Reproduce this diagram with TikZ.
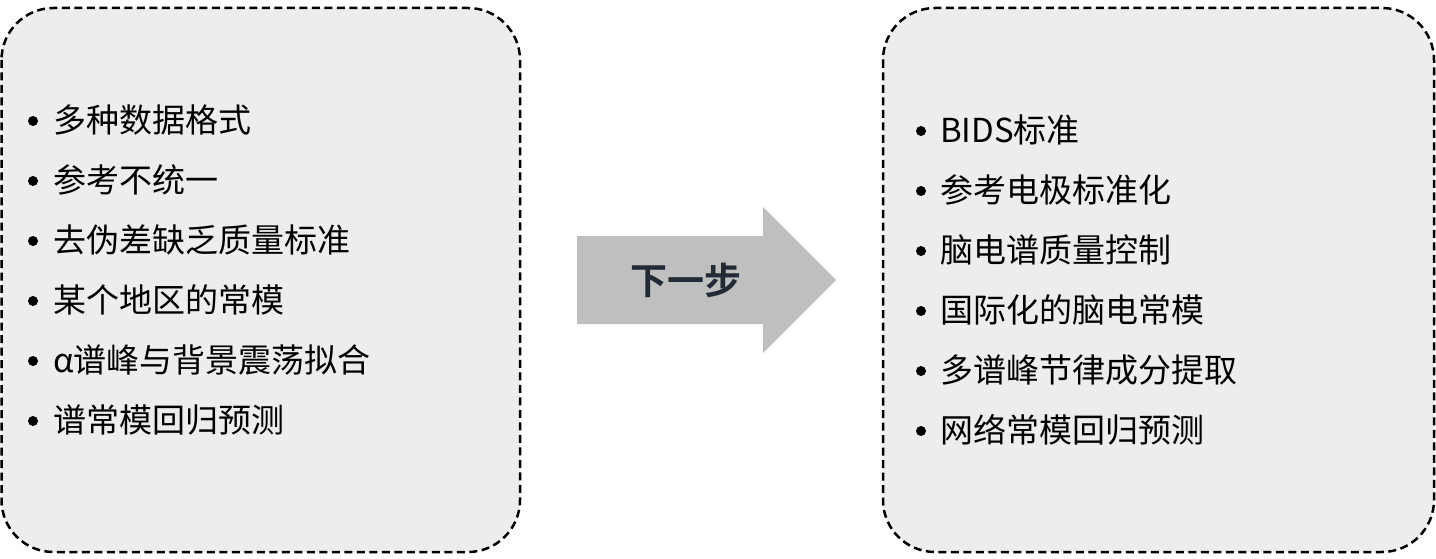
\documentclass[tikz,border=0pt]{standalone}
\usepackage{fontspec}
\setmainfont{Noto Sans CJK SC}
\newfontfamily\cjkbold{Noto Sans CJK SC Bold}
\definecolor{boxfill}{HTML}{EDEDED}
\definecolor{arrowfill}{HTML}{BFBFBF}
\definecolor{arrowtext}{HTML}{222A35}
\begin{document}
\begin{tikzpicture}[x=1pt,y=-1pt,
  panel/.style={draw=black, fill=boxfill, line width=2.5pt, dash pattern=on 8pt off 4.5pt, rounded corners=52pt},
  item/.style={anchor=west, inner sep=0pt, font=\fontsize{33}{38}\selectfont, text=black},
  bulletdot/.style={circle, fill=black, inner sep=0pt, minimum size=10pt}
]
\useasboundingbox (0,0) rectangle (1436,559);
% panels
\draw[panel] (1.5,8) rectangle (520,552);
\draw[panel] (883,8) rectangle (1434,552);
% arrow
\fill[arrowfill] (577,236) -- (763,236) -- (763,207) -- (836,280) -- (763,353) -- (763,324) -- (577,324) -- cycle;
\node[font=\cjkbold\fontsize{37}{42}\selectfont, text=arrowtext] (next) at (686,280) {下一步};
% left list
\foreach \t [count=\i] in {多种数据格式,参考不统一,去伪差缺乏质量标准,某个地区的常模,α谱峰与背景震荡拟合,谱常模回归预测}{
  \node[bulletdot] (lb\i) at (33,{121+60*(\i-1)}) {};
  \node[item] (lt\i) at (53,{120+60*(\i-1)}) {\t};
}
% right list
\foreach \t [count=\i] in {BIDS标准,参考电极标准化,脑电谱质量控制,国际化的脑电常模,多谱峰节律成分提取,网络常模回归预测}{
  \node[bulletdot] (rb\i) at (921,{131+60*(\i-1)}) {};
  \node[item] (rt\i) at (940,{130+60*(\i-1)}) {\t};
}
\end{tikzpicture}
\end{document}
